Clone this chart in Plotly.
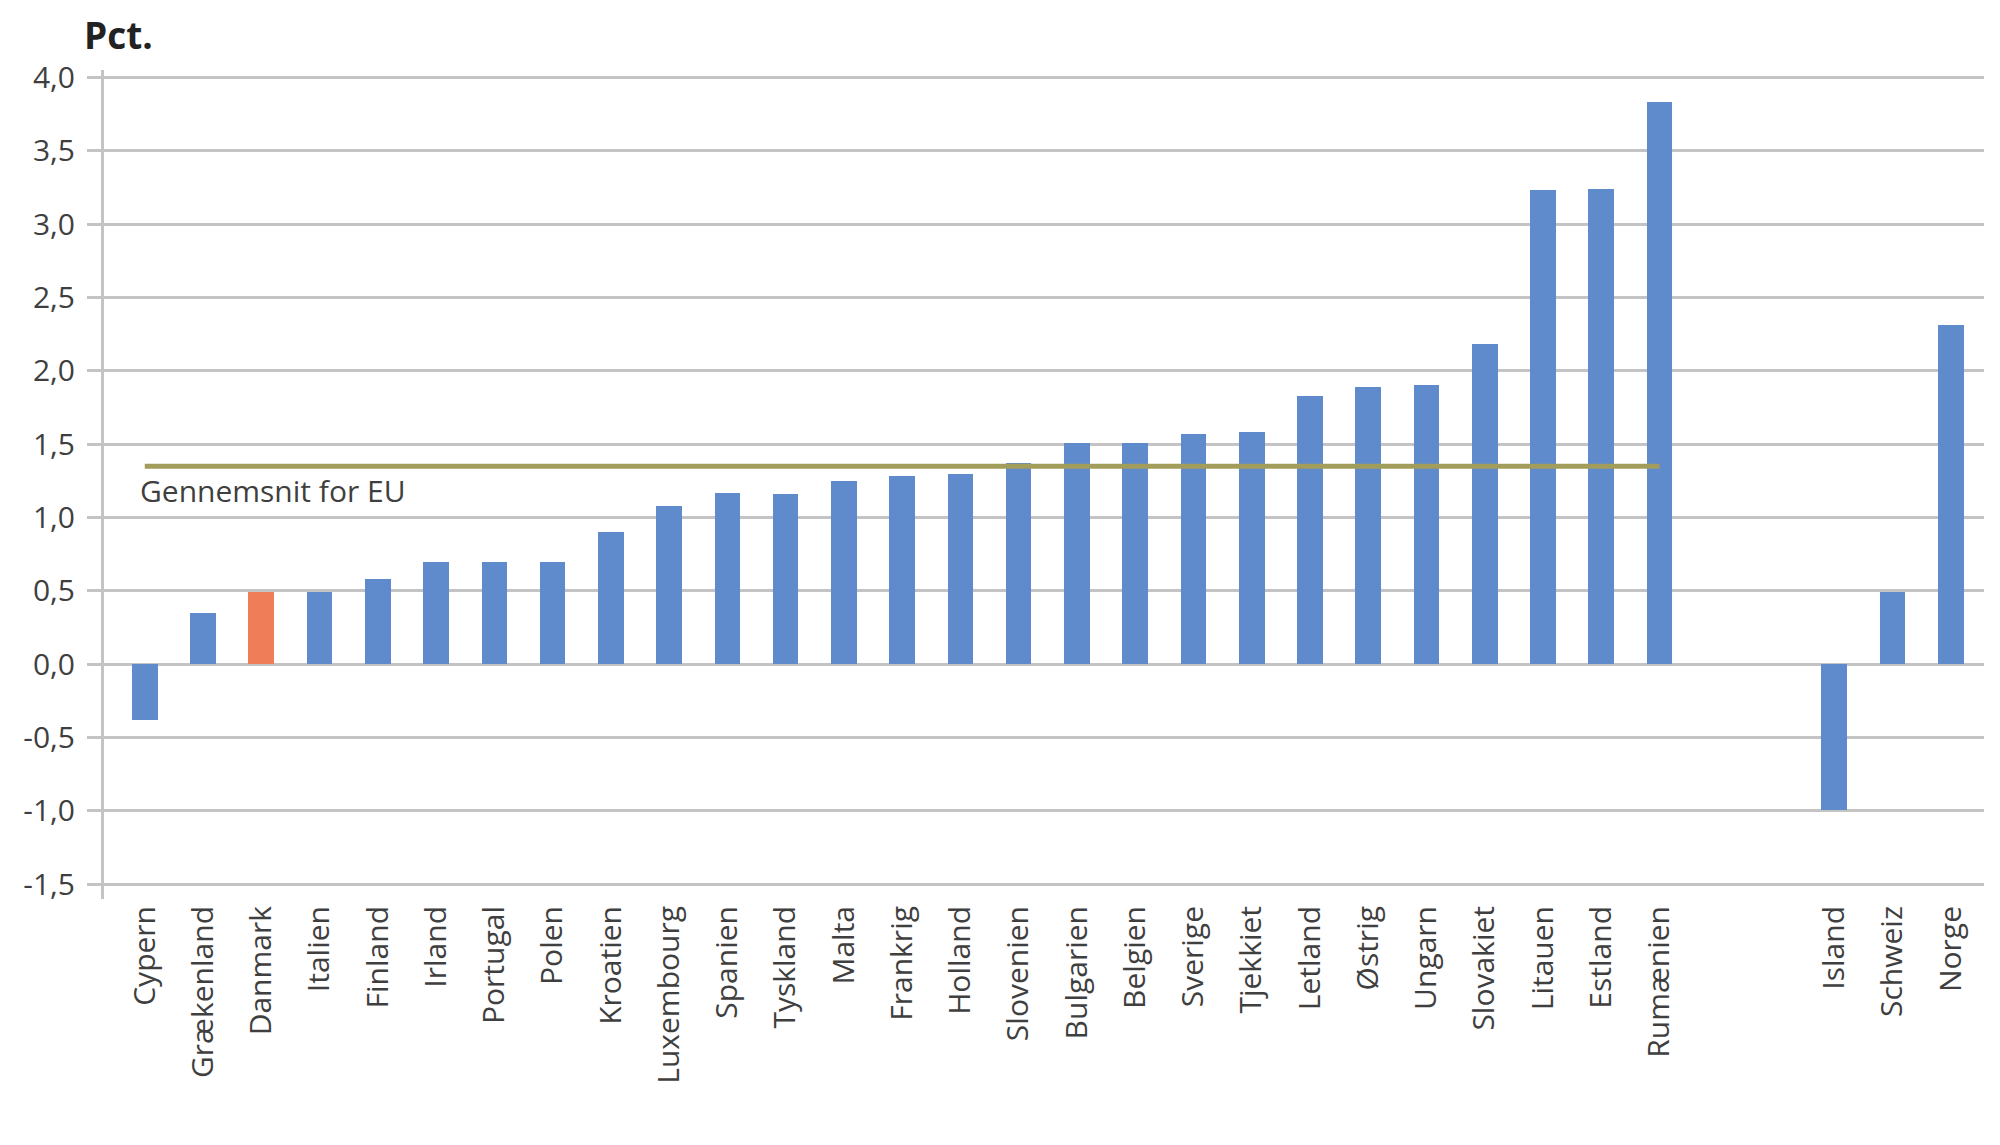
import plotly.graph_objects as go

# Data (pct.)
eu_countries = ["Cypern", "Grækenland", "Danmark", "Italien", "Finland", "Irland",
                "Portugal", "Polen", "Kroatien", "Luxembourg", "Spanien", "Tyskland",
                "Malta", "Frankrig", "Holland", "Slovenien", "Bulgarien", "Belgien",
                "Sverige", "Tjekkiet", "Letland", "Østrig", "Ungarn", "Slovakiet",
                "Litauen", "Estland", "Rumænien"]
eu_values = [-0.38, 0.35, 0.49, 0.49, 0.58, 0.70, 0.70, 0.70, 0.90, 1.08, 1.17, 1.16,
             1.25, 1.28, 1.30, 1.37, 1.51, 1.51, 1.57, 1.58, 1.83, 1.89, 1.90, 2.18,
             3.23, 3.24, 3.83]
other_countries = ["Island", "Schweiz", "Norge"]
other_values = [-0.99, 0.49, 2.31]
eu_average = 1.35
highlight = "Danmark"

y_ticks = [-1.5, -1.0, -0.5, 0.0, 0.5, 1.0, 1.5, 2.0, 2.5, 3.0, 3.5, 4.0]
y_ticktext = ["-1,5", "-1,0", "-0,5", "0,0", "0,5", "1,0", "1,5", "2,0", "2,5", "3,0", "3,5", "4,0"]

BLUE = "#5f8acb"
ORANGE = "#ee7d58"
GRID = "#c4c4c4"
TEXT = "#3f3f3f"
FONT = "Open Sans"

# two empty slots between the EU group and the others
eu_x = list(range(len(eu_countries)))
gap = 2
other_x = [len(eu_countries) + gap + i for i in range(len(other_countries))]

names = eu_countries + other_countries
xs = eu_x + other_x
vals = eu_values + other_values
colors = [ORANGE if n == highlight else BLUE for n in names]

fig = go.Figure()
fig.add_trace(go.Bar(x=xs, y=vals, marker=dict(color=colors, line=dict(width=0)),
                     width=0.44, showlegend=False))

# EU average line
fig.add_trace(go.Scatter(x=[eu_x[0], eu_x[-1]], y=[eu_average, eu_average], mode="lines",
                         line=dict(color="#a39d5c", width=5), showlegend=False))

fig.add_annotation(x=eu_x[0] - 0.12, y=eu_average, xref="x", yref="y",
                   text="Gennemsnit for EU", showarrow=False, xanchor="left", yanchor="top",
                   yshift=-2, font=dict(family=FONT, size=30, color=TEXT))

fig.add_annotation(x=0, y=1, xref="paper", yref="paper", text="<b>Pct.</b>",
                   showarrow=False, xanchor="left", yanchor="middle", xshift=-22, yshift=36,
                   font=dict(family=FONT, size=37, color="#222222"))

fig.update_layout(
    width=2000, height=1145,
    margin=dict(l=96, r=24, t=62, b=254),
    plot_bgcolor="white", paper_bgcolor="white",
    font=dict(family=FONT, size=30, color=TEXT),
    bargap=0,
)
fig.update_xaxes(
    tickvals=xs, ticktext=names, tickangle=-90,
    range=[-0.7, other_x[-1] + 0.57],
    showgrid=False, zeroline=False, showline=False, ticks="",
    tickfont=dict(family=FONT, size=30, color=TEXT),
)
fig.update_yaxes(
    tickvals=y_ticks, ticktext=y_ticktext,
    range=[-1.6, 4.05],
    showgrid=True, gridcolor=GRID, gridwidth=3,
    zeroline=True, zerolinecolor=GRID, zerolinewidth=3,
    showline=True, linecolor=GRID, linewidth=3,
    ticks="outside", ticklen=14, tickcolor=GRID, tickwidth=3,
    ticklabelstandoff=6,
    tickfont=dict(family=FONT, size=30, color=TEXT),
)

fig.write_html("out.html")
